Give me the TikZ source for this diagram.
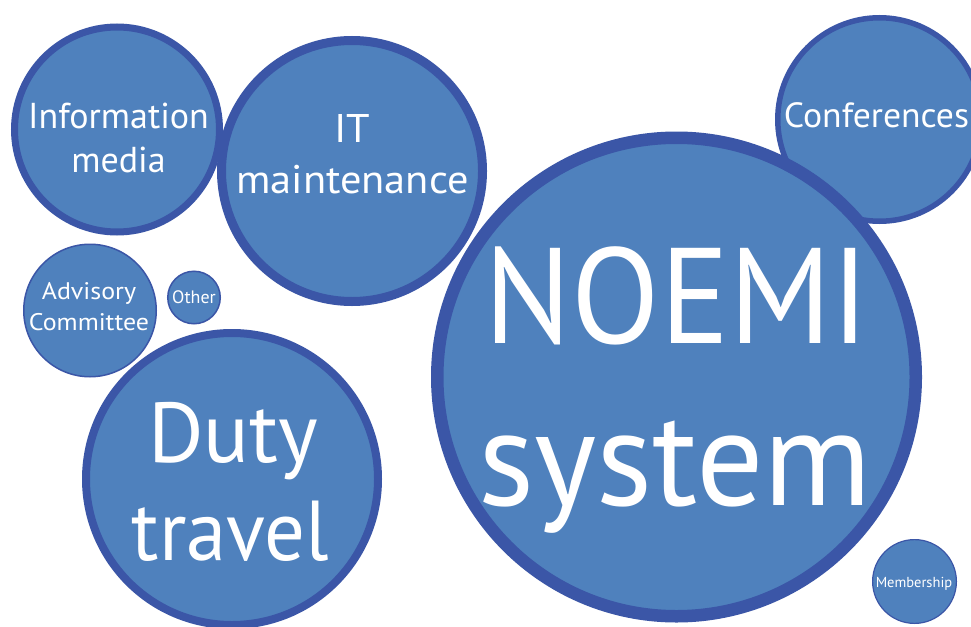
\documentclass[tikz,border=0pt]{standalone}
\usepackage{fontspec}
\setmainfont{PT Sans}
\definecolor{bubfill}{HTML}{4F81BD}
\definecolor{bubline}{HTML}{3B56A7}
\tikzset{
  bub/.style={circle, draw=bubline, fill=bubfill, inner sep=0pt},
  lbl/.style={text=white, anchor=base, inner sep=0pt},
}
\newcommand{\fs}[1]{\fontsize{#1}{#1}\selectfont}
\begin{document}
\begin{tikzpicture}[x=1pt,y=-1pt]
\useasboundingbox (0,0) rectangle (971,626);
\clip (0,0) rectangle (971,626);
\fill[white] (0,0) rectangle (971,626);
% circles (minimum size = outer diameter - line width)
\node[bub, line width=7pt, minimum size=205pt] (info) at (117,129.5) {};
\node[bub, line width=9pt, minimum size=261pt] (it) at (352,171) {};
\node[bub, line width=5.5pt, minimum size=203.5pt] (conf) at (879.5,119.5) {};
\node[bub, line width=12.5pt, minimum size=478.5pt] (noemi) at (676.5,377) {};
\node[bub, line width=1.5pt, minimum size=132.5pt] (adv) at (90,310.5) {};
\node[bub, line width=1.5pt, minimum size=52.5pt] (other) at (194,297.5) {};
\node[bub, line width=8pt, minimum size=292pt] (duty) at (232,479) {};
\node[bub, line width=1.2pt, minimum size=83.8pt] (memb) at (914.5,581.5) {};
% labels
\node[lbl, font=\fs{136}, xscale=0.95] (noemi1) at (677,343) {NOEMI};
\node[lbl, font=\fs{136}, xscale=0.98] (noemi2) at (675,505) {system};
\node[lbl, font=\fs{85}] (duty1) at (233,462) {Duty};
\node[lbl, font=\fs{85}, xscale=0.95] (duty2) at (230.5,560) {travel};
\node[lbl, font=\fs{40}, xscale=1.06] (it1) at (352.5,142) {IT};
\node[lbl, font=\fs{40}, xscale=1.06] (it2) at (352.5,193) {maintenance};
\node[lbl, font=\fs{36}] (info1) at (118.5,128) {Information};
\node[lbl, font=\fs{36}] (info2) at (118.5,172) {media};
\node[lbl, font=\fs{35}, xscale=1.02] (conf1) at (876.5,127) {Conferences};
\node[lbl, font=\fs{24}, xscale=1.08] (adv1) at (89,299) {Advisory};
\node[lbl, font=\fs{24}, xscale=1.08] (adv2) at (89,330) {Committee};
\node[lbl, font=\fs{18}] (other1) at (194,303) {Other};
\node[lbl, font=\fs{14.5}] (memb1) at (914,587) {Membership};
\end{tikzpicture}
\end{document}
